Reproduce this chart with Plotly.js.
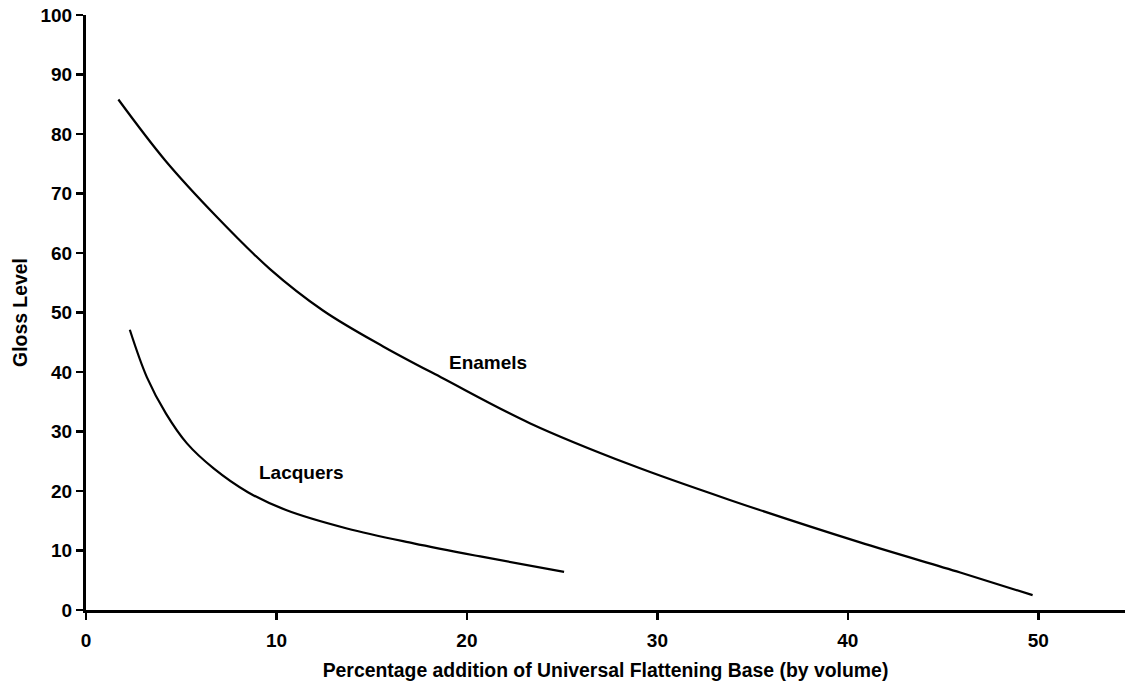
<!DOCTYPE html>
<html>
<head>
<meta charset="utf-8">
<script src="https://cdn.plot.ly/plotly-3.0.1.min.js"></script>
<style>html,body{margin:0;padding:0;background:#fff;}#chart{width:1125px;height:685px;}</style>
</head>
<body>
<div id="chart"></div>
<script>
const enamelX = [1.7, 4.15, 6.86, 9.66, 12.46, 15.6, 18.76, 23.3, 28.6, 33.8, 40.6, 45.9, 49.7];
const enamelY = [85.8, 75.6, 66.1, 57.3, 50.3, 44.3, 38.9, 31.4, 24.4, 18.5, 11.4, 6.3, 2.5];
const lacquerX = [2.3, 3.2, 4.2, 5.3, 6.7, 8.5, 10.5, 13.7, 17.2, 20.7, 25.1];
const lacquerY = [47.1, 39.1, 33.0, 28.0, 23.8, 19.8, 16.8, 13.7, 11.2, 9.0, 6.4];
const xTicks = [0, 10, 20, 30, 40, 50];
const yTicks = [0, 10, 20, 30, 40, 50, 60, 70, 80, 90, 100];
const seriesLabels = ["Enamels", "Lacquers"];

const font = {family: "Liberation Sans, Arial, sans-serif", size: 19, color: "#000", weight: "bold"};
const titleFont = {family: "Liberation Sans, Arial, sans-serif", size: 19.4, color: "#000", weight: "bold"};

const traces = [
  {x: enamelX, y: enamelY, name: seriesLabels[0], mode: "lines", line: {color: "#000", width: 2.2, shape: "spline", smoothing: 1}},
  {x: lacquerX, y: lacquerY, name: seriesLabels[1], mode: "lines", line: {color: "#000", width: 2.2, shape: "spline", smoothing: 1}}
];

const layout = {
  width: 1125, height: 685,
  margin: {l: 86, r: 0, t: 15, b: 75, pad: 0},
  paper_bgcolor: "#fff", plot_bgcolor: "#fff",
  showlegend: false,
  font: font,
  xaxis: {
    range: [0, 54.55], tickvals: xTicks, ticktext: xTicks.map(String),
    showline: true, linecolor: "#000", linewidth: 3,
    ticks: "outside", ticklen: 7, tickwidth: 2.5, tickcolor: "#000",
    showgrid: false, zeroline: false, tickfont: font, ticklabelstandoff: 4,
    title: {text: "Percentage addition of Universal Flattening Base (by volume)", font: titleFont, standoff: 14}
  },
  yaxis: {
    range: [0, 100], tickvals: yTicks, ticktext: yTicks.map(String),
    showline: true, linecolor: "#000", linewidth: 3,
    ticks: "outside", ticklen: 7, tickwidth: 2.5, tickcolor: "#000",
    showgrid: false, zeroline: false, tickfont: font,
    title: {text: "Gloss Level", font: titleFont, standoff: 8}
  },
  annotations: [
    {x: 18.95, y: 41.6, xref: "x", yref: "y", text: seriesLabels[0], showarrow: false, xanchor: "left", yanchor: "middle", font: font},
    {x: 8.98, y: 23.1, xref: "x", yref: "y", text: seriesLabels[1], showarrow: false, xanchor: "left", yanchor: "middle", font: font}
  ]
};

Plotly.newPlot("chart", traces, layout, {staticPlot: true, displayModeBar: false});
</script>
</body>
</html>
